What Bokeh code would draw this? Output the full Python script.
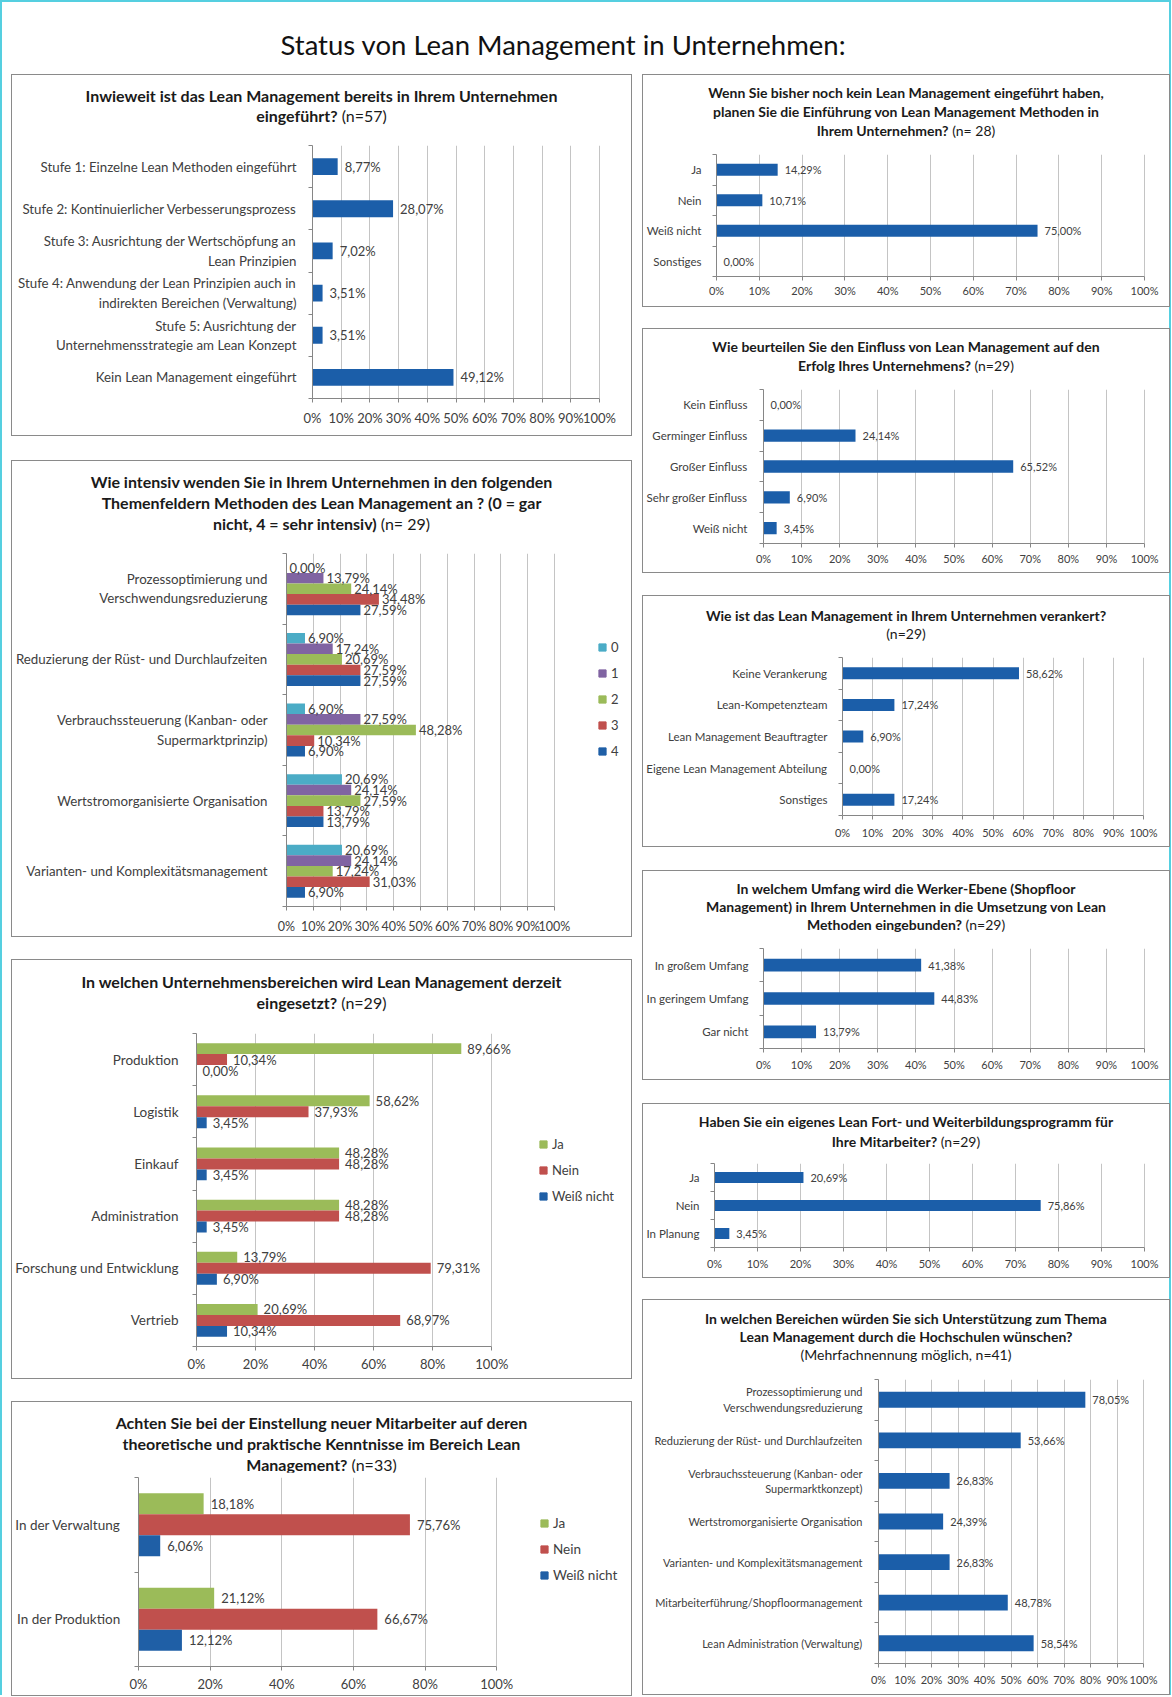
from bokeh.plotting import figure
from bokeh.models import (Range1d, FixedTicker, PrintfTickFormatter, Div, Spacer,
                          Legend, LegendItem, ColumnDataSource)
from bokeh.layouts import column, row
from bokeh.embed import file_html
from bokeh.resources import INLINE
from bokeh.core.properties import value

FONT = "Lato"
TXT = "#404040"
AX = "#868686"
GRID = "#C4C4C4"
BLUE = "#1B5EA9"
C0, C1, C2, C3, C4 = "#4BACC6", "#8064A2", "#9BBB59", "#C0504D", "#1F5FA6"

# ---------------- data ----------------
p1_cats = ["Stufe 1: Einzelne Lean Methoden eingeführt",
           "Stufe 2: Kontinuierlicher Verbesserungsprozess",
           "Stufe 3: Ausrichtung der Wertschöpfung an\nLean Prinzipien",
           "Stufe 4: Anwendung der Lean Prinzipien auch in\nindirekten Bereichen (Verwaltung)",
           "Stufe 5: Ausrichtung der\nUnternehmensstrategie am Lean Konzept",
           "Kein Lean Management eingeführt"]
p1_vals = [8.77, 28.07, 7.02, 3.51, 3.51, 49.12]

p2_cats = ["Prozessoptimierung und\nVerschwendungsreduzierung",
           "Reduzierung der Rüst- und Durchlaufzeiten",
           "Verbrauchssteuerung (Kanban- oder\nSupermarktprinzip)",
           "Wertstromorganisierte Organisation",
           "Varianten- und Komplexitätsmanagement"]
p2_names = ["0", "1", "2", "3", "4"]
p2_s0 = [0.00, 6.90, 6.90, 20.69, 20.69]
p2_s1 = [13.79, 17.24, 27.59, 24.14, 24.14]
p2_s2 = [24.14, 20.69, 48.28, 27.59, 17.24]
p2_s3 = [34.48, 27.59, 10.34, 13.79, 31.03]
p2_s4 = [27.59, 27.59, 6.90, 13.79, 6.90]

p3_cats = ["Produktion", "Logistik", "Einkauf", "Administration",
           "Forschung und Entwicklung", "Vertrieb"]
p3_names = ["Ja", "Nein", "Weiß nicht"]
p3_ja = [89.66, 58.62, 48.28, 48.28, 13.79, 20.69]
p3_nein = [10.34, 37.93, 48.28, 48.28, 79.31, 68.97]
p3_wn = [0.00, 3.45, 3.45, 3.45, 6.90, 10.34]

p4_cats = ["In der Verwaltung", "In der Produktion"]
p4_names = ["Ja", "Nein", "Weiß nicht"]
p4_ja = [18.18, 21.12]
p4_nein = [75.76, 66.67]
p4_wn = [6.06, 12.12]

r1_cats = ["Ja", "Nein", "Weiß nicht", "Sonstiges"]
r1_vals = [14.29, 10.71, 75.00, 0.00]

r2_cats = ["Kein Einfluss", "Germinger Einfluss", "Großer Einfluss",
           "Sehr großer Einfluss", "Weiß nicht"]
r2_vals = [0.00, 24.14, 65.52, 6.90, 3.45]

r3_cats = ["Keine Verankerung", "Lean-Kompetenzteam", "Lean Management Beauftragter",
           "Eigene Lean Management Abteilung", "Sonstiges"]
r3_vals = [58.62, 17.24, 6.90, 0.00, 17.24]

r4_cats = ["In großem Umfang", "In geringem Umfang", "Gar nicht"]
r4_vals = [41.38, 44.83, 13.79]

r5_cats = ["Ja", "Nein", "In Planung"]
r5_vals = [20.69, 75.86, 3.45]

r6_cats = ["Prozessoptimierung und\nVerschwendungsreduzierung",
           "Reduzierung der Rüst- und Durchlaufzeiten",
           "Verbrauchssteuerung (Kanban- oder\nSupermarktkonzept)",
           "Wertstromorganisierte Organisation",
           "Varianten- und Komplexitätsmanagement",
           "Mitarbeiterführung/Shopfloormanagement",
           "Lean Administration (Verwaltung)"]
r6_vals = [78.05, 53.66, 26.83, 24.39, 26.83, 48.78, 58.54]

ticks10 = [0, 10, 20, 30, 40, 50, 60, 70, 80, 90, 100]
ticks20 = [0, 20, 40, 60, 80, 100]


def pct(v):
    return f"{v:.2f}".replace(".", ",") + "%"


def chart(cats, series, colors, bar_h, w, h, bl, w100, bt, bb, xticks,
          cat_fs, val_fs, tick_fs, cat_stand, tick_stand, val_off, legend=None):
    n = len(cats)
    br = 1
    xmax = 100.0 * (w - bl - br) / w100
    p = figure(width=w, height=h, x_range=Range1d(0, xmax), y_range=Range1d(n, 0),
               output_backend="svg", toolbar_location=None,
               min_border_left=bl, min_border_right=br,
               min_border_top=bt, min_border_bottom=bb, margin=(0, 0, 0, 0))
    p.outline_line_color = None
    p.title.visible = False
    p.background_fill_color = "white"
    p.border_fill_color = "white"
    centers = [i + 0.5 for i in range(n)]
    k = len(series)
    srcs = []
    for j, vals in enumerate(series):
        off = (j - (k - 1) / 2.0) * bar_h
        srcs.append(ColumnDataSource(dict(y=[c + off for c in centers], right=list(vals),
                                          label=[pct(v) for v in vals])))
    for src, col in zip(srcs, colors):
        p.hbar(y="y", left=0, right="right", height=bar_h, source=src,
               fill_color=col, line_color=None)
    for src in srcs:
        p.text(x="right", y="y", text="label", source=src, x_offset=val_off,
               text_baseline="middle", text_align="left", text_font=value(FONT),
               text_font_size=f"{val_fs}px", text_color=TXT)
    xa = p.xaxis[0]
    xa.ticker = FixedTicker(ticks=xticks)
    xa.formatter = PrintfTickFormatter(format="%d%%")
    xa.bounds = (0, 100)
    xa.axis_line_color = AX
    xa.major_tick_line_color = AX
    xa.major_tick_out = 4
    xa.major_tick_in = 0
    xa.minor_tick_line_color = None
    xa.major_label_text_font = FONT
    xa.major_label_text_font_size = f"{tick_fs}px"
    xa.major_label_text_color = TXT
    xa.major_label_standoff = tick_stand
    p.xgrid[0].ticker = FixedTicker(ticks=xticks)
    p.xgrid[0].grid_line_color = GRID
    p.ygrid[0].visible = False
    ya = p.yaxis[0]
    ya.ticker = FixedTicker(ticks=centers, minor_ticks=list(range(n + 1)))
    ya.major_label_overrides = {c: name for c, name in zip(centers, cats)}
    ya.axis_line_color = AX
    ya.major_tick_line_color = None
    ya.major_tick_out = 0
    ya.major_tick_in = 0
    ya.minor_tick_line_color = AX
    ya.minor_tick_out = 4
    ya.minor_tick_in = 0
    ya.major_label_text_font = FONT
    ya.major_label_text_font_size = f"{cat_fs}px"
    ya.major_label_text_color = TXT
    ya.major_label_standoff = cat_stand
    if legend is not None:
        names, vx, vy, lfs = legend
        items = []
        for name, col, src in zip(names, colors, srcs):
            # legend proxy: zero-size marker on the series' own data
            proxy = p.scatter(x="right", y="y", source=src, marker="square", size=0,
                              fill_color=col, line_color=col)
            items.append(LegendItem(label=name, renderers=[proxy]))
        lg = Legend(items=items, location=(vx, vy), orientation="vertical",
                    glyph_width=18, glyph_height=18, label_height=18, label_width=10,
                    label_standoff=-3, spacing=8, padding=0, margin=0,
                    border_line_color=None, background_fill_alpha=0,
                    label_text_font=FONT, label_text_font_size=f"{lfs}px",
                    label_text_color=TXT)
        p.add_layout(lg)
    return p


def tdiv(html, w, h, fs, lh, pad):
    txt = (f'<div style="width:{w}px;font-family:Lato;font-size:{fs}px;line-height:{lh}px;'
           f'text-align:center;color:#1a1a1a;padding-top:{pad}px;margin:0">{html}</div>')
    return Div(text=txt, width=w, height=h, margin=(0, 0, 0, 0))


def panel(div, fig):
    return column(div, fig, spacing=0,
                  styles={"outline": "1px solid #8A8A8A", "background-color": "white"})


LW, RW = 619, 526

# ---------------- left column ----------------
f1 = chart(p1_cats, [p1_vals], [BLUE], 0.4, LW, 300, 300, 287, 10, 37, ticks10,
           13.3, 13, 13, 12, 7, 7)
P1 = panel(tdiv("<b>Inwieweit ist das Lean Management bereits in Ihrem Unternehmen<br>"
                "eingeführt?</b> (n=57)", LW, 60, 16, 20, 11), f1)

f2 = chart(p2_cats, [p2_s0, p2_s1, p2_s2, p2_s3, p2_s4], [C0, C1, C2, C3, C4], 0.15,
           LW, 391, 274, 268, 8, 28, ticks10, 13.3, 13, 12.5, 15, 8, 3,
           legend=(p2_names, 307, 146, 13))
P2 = panel(tdiv("<b>Wie intensiv wenden Sie in Ihrem Unternehmen in den folgenden<br>"
                "Themenfeldern Methoden des Lean Management an ? (0 = gar<br>"
                "nicht, 4 = sehr intensiv)</b> (n= 29)", LW, 84, 16, 21, 10), f2)

f3 = chart(p3_cats, [p3_ja, p3_nein, p3_wn], [C2, C3, C4], 0.21,
           LW, 355, 183, 296, 10, 32, ticks20, 13.5, 13, 13, 14, 5, 6,
           legend=(p3_names, 338, 141, 13))
P3 = panel(tdiv("<b>In welchen Unternehmensbereichen wird Lean Management derzeit<br>"
                "eingesetzt?</b> (n=29)", LW, 63, 16, 21, 11), f3)

f4 = chart(p4_cats, [p4_ja, p4_nein, p4_wn], [C2, C3, C4], 0.222,
           LW, 223, 125, 359, 5, 29, ticks20, 13.5, 13, 13, 14, 5, 7,
           legend=(p4_names, 397, 82, 13.5))
P4 = panel(tdiv("<b>Achten Sie bei der Einstellung neuer Mitarbeiter auf deren<br>"
                "theoretische und praktische Kenntnisse im Bereich Lean<br>"
                "Management?</b> (n=33)", LW, 70, 16, 21, 10), f4)

left_col = column(Spacer(height=1), P1, Spacer(height=26), P2, Spacer(height=24), P3,
                  Spacer(height=24), P4, spacing=0)

# ---------------- right column ----------------
g1 = chart(r1_cats, [r1_vals], [BLUE], 0.4, RW, 159, 72, 429, 7, 30, ticks10,
           11.5, 11, 11, 11, 3, 7)
R1 = panel(tdiv("<b>Wenn Sie bisher noch kein Lean Management eingeführt haben,<br>"
                "planen Sie die Einführung von Lean Management Methoden in<br>"
                "Ihrem Unternehmen?</b> (n= 28)", RW, 72, 14, 19, 8), g1)

g2 = chart(r2_cats, [r2_vals], [BLUE], 0.4, RW, 187, 118, 383, 4, 29, ticks10,
           11.5, 11, 11, 12, 4, 7)
R2 = panel(tdiv("<b>Wie beurteilen Sie den Einfluss von Lean Management auf den<br>"
                "Erfolg Ihres Unternehmens?</b> (n=29)", RW, 56, 14, 19, 8), g2)

g3 = chart(r3_cats, [r3_vals], [BLUE], 0.38, RW, 194, 198, 302, 5, 31, ticks10,
           11.5, 11, 11, 11, 6, 7)
R3 = panel(tdiv("<b>Wie ist das Lean Management in Ihrem Unternehmen verankert?</b><br>"
                "(n=29)", RW, 56, 14, 18, 11), g3)

g4 = chart(r4_cats, [r4_vals], [BLUE], 0.38, RW, 135, 120, 381, 4, 31, ticks10,
           11.5, 11, 11, 11, 5, 7)
R4 = panel(tdiv("<b>In welchem Umfang wird die Werker-Ebene (Shopfloor<br>"
                "Management) in Ihrem Unternehmen in die Umsetzung von Lean<br>"
                "Methoden eingebunden?</b> (n=29)", RW, 73, 14, 18, 9), g4)

g5 = chart(r5_cats, [r5_vals], [BLUE], 0.4, RW, 117, 71, 430, 3, 30, ticks10,
           11.5, 11, 11, 11, 5, 7)
R5 = panel(tdiv("<b>Haben Sie ein eigenes Lean Fort- und Weiterbildungsprogramm für<br>"
                "Ihre Mitarbeiter?</b> (n=29)", RW, 56, 14, 20, 8), g5)

g6 = chart(r6_cats, [r6_vals], [BLUE], 0.39, RW, 319, 235, 265, 4, 31, ticks10,
           11, 11, 11, 12, 5, 7)
R6 = panel(tdiv("<b>In welchen Bereichen würden Sie sich Unterstützung zum Thema<br>"
                "Lean Management durch die Hochschulen wünschen?</b><br>"
                "(Mehrfachnennung möglich, n=41)", RW, 75, 14, 18, 10), g6)

right_col = column(Spacer(height=1), R1, Spacer(height=23), R2, Spacer(height=24), R3,
                   Spacer(height=25), R4, Spacer(height=25), R5, Spacer(height=23), R6,
                   spacing=0)

main_title = Div(text='<div style="width:1122px;text-align:center;font-family:Lato;'
                      'font-size:27.5px;line-height:34px;padding-top:26px;color:#111;margin:0">'
                      'Status von Lean Management in Unternehmen:</div>',
                 width=1167, height=72, margin=(0, 0, 0, 0))

root = column(main_title,
              row(Spacer(width=10), left_col, Spacer(width=12), right_col, spacing=0),
              spacing=0,
              styles={"border-left": "2px solid #55CFE0", "border-top": "2px solid #55CFE0",
                      "border-right": "2px solid #55CFE0", "background-color": "white"})

open("out.html", "w").write(file_html(root, INLINE))
